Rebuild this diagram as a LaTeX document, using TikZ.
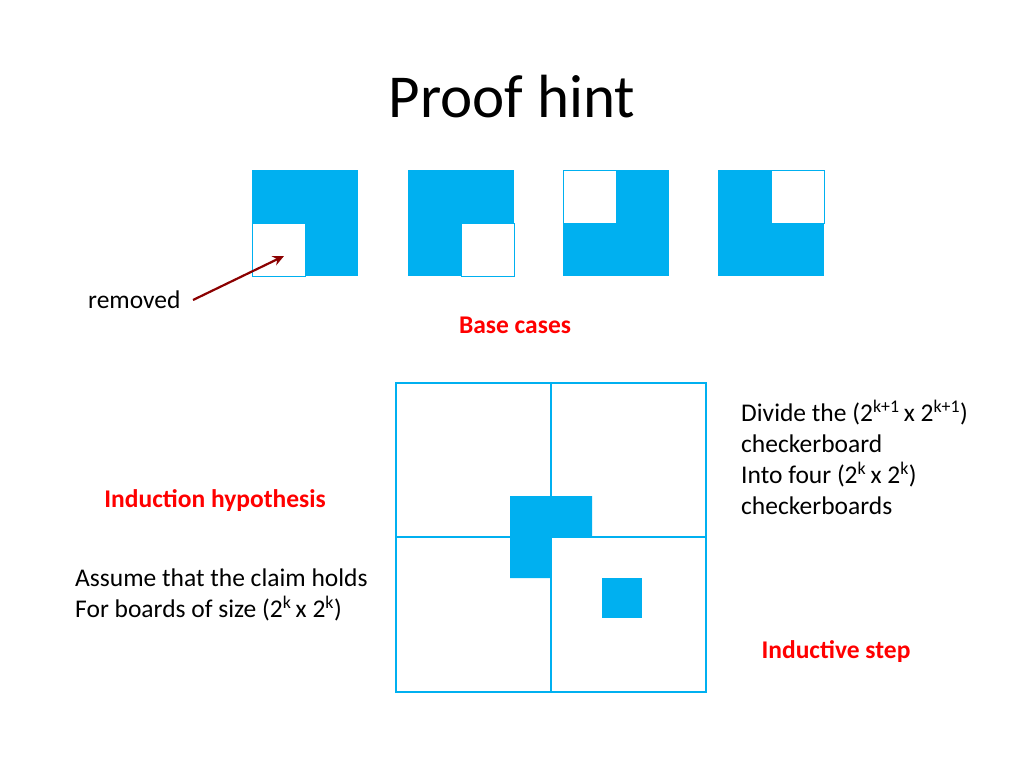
\documentclass[tikz,border=0pt]{standalone}
\usepackage{fontspec}
\setmainfont{Carlito}
\usetikzlibrary{arrows.meta}
\definecolor{cb}{HTML}{00B0F0}
\definecolor{dr}{HTML}{8B0000}
\definecolor{rd}{HTML}{FF0000}
\begin{document}
\begin{tikzpicture}[x=1pt,y=-1pt,
  blk/.style={fill=cb,draw=none},
  wht/.style={fill=white,draw=cb,line width=0.8pt},
  lbl/.style={font=\fontsize{25.5}{31}\selectfont,inner sep=0pt},
  red/.style={font=\bfseries\fontsize{25.5}{31}\selectfont,text=rd,inner sep=0pt}]
\useasboundingbox (0,0) rectangle (1024,768);
\node[font=\fontsize{61}{70}\selectfont] (title) at (512,97) {Proof hint};
% base cases
\fill[blk] (252,170) rectangle (358,276);
\draw[wht] (252,223) rectangle (305,276);
\fill[blk] (408,170) rectangle (514,276);
\draw[wht] (461,223) rectangle (514,276);
\fill[blk] (563,170) rectangle (669,276);
\draw[wht] (563,170) rectangle (616,223);
\fill[blk] (718,170) rectangle (824,276);
\draw[wht] (771,170) rectangle (824,223);
\coordinate (tip) at (284,256);
\node[lbl,anchor=west] (rem) at (88,300) {removed};
\coordinate (tail) at (193,300);
\draw[dr,line width=2.2pt,-{Stealth[length=11pt,width=10pt]}] (tail) -- (tip);
\node[red] (base) at (515,325) {Base cases};
% big board
\draw[cb,line width=1.2pt] (396,383) rectangle (706,692);
\draw[cb,line width=1.2pt] (551,383) -- (551,692) (396,537) -- (706,537);
\fill[blk] (510,496) -- (592,496) -- (592,537) -- (551,537) -- (551,578) -- (510,578) -- cycle;
\fill[blk] (602,578) rectangle (642,618);
\node[red] (ih) at (215,501) {Induction hypothesis};
\node[lbl,anchor=north west,align=left] (assume) at (75,569) {Assume that the claim holds\\For boards of size (2\textsuperscript{k}\,x 2\textsuperscript{k})};
\node[lbl,anchor=north west,align=left] (div) at (741,400) {Divide the (2\textsuperscript{k+1}\,x 2\textsuperscript{k+1})\\checkerboard\\Into four (2\textsuperscript{k}\,x 2\textsuperscript{k})\\checkerboards};
\node[red] (is) at (836,652) {Inductive step};
\end{tikzpicture}
\end{document}
